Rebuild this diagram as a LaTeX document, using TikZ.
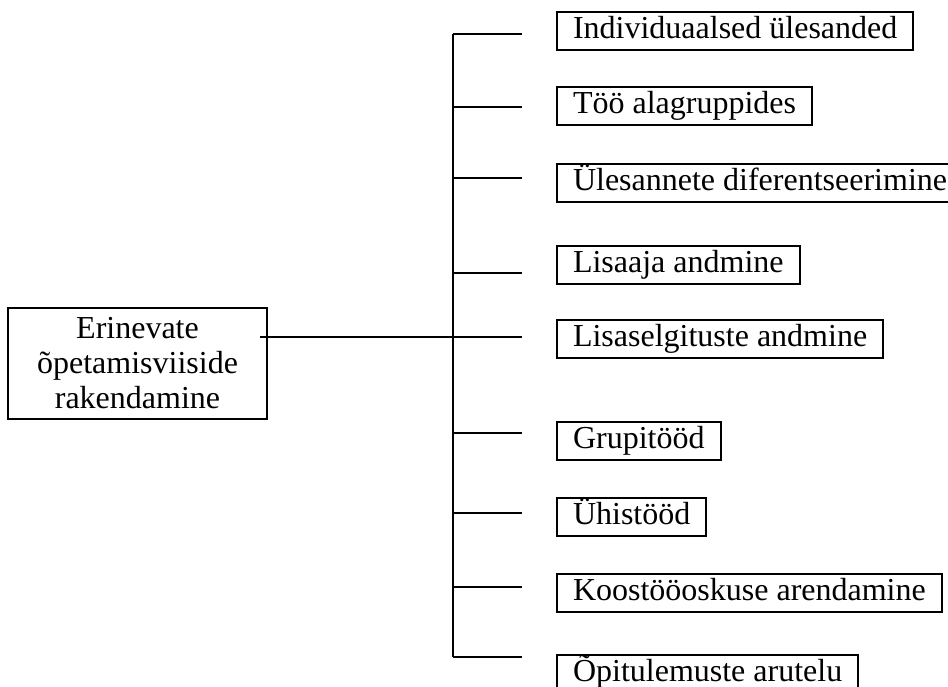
\documentclass[tikz,border=0pt]{standalone}
\usepackage{fontspec}
\setmainfont{Liberation Serif}
\tikzstyle{box} = [rectangle, draw, line width=1pt, anchor=west, inner xsep=8pt, inner ysep=2.25pt, text height=11pt, text depth=3.5pt, font=\fontsize{16}{17}\selectfont]
\tikzstyle{main} = [rectangle, draw, line width=1pt, align=center, minimum width=129.5pt, minimum height=55.5pt, font=\fontsize{16}{17.5}\selectfont]
\tikzstyle{line} = [draw, line width=1pt]

\begin{document}
\begin{tikzpicture}[x=0.5pt, y=-0.5pt]
  \useasboundingbox (0,0) rectangle (948,686);
  \node [main] (viisid) at (137.5,363.5) {Erinevate\\õpetamisviiside\\rakendamine};
  % boxes on the right: box y / tick y / name / text
  \foreach \by/\ty/\nm/\txt in {30.5/34/ind/Individuaalsed ülesanded,
      105.5/107/too/Töö alagruppides,
      182.5/178/yles/Ülesannete diferentseerimine,
      265/273/lisaaja/Lisaaja andmine,
      339/337/lisasel/Lisaselgituste andmine,
      441/433/grupi/Grupitööd,
      516.5/513/yhis/Ühistööd,
      592.5/587/koos/Koostööoskuse arendamine,
      674/657/opi/Õpitulemuste arutelu} {
    \node [box] (\nm) at (556,\by) {\txt};
    \coordinate (s-\nm) at (453,\ty);
    \coordinate (e-\nm) at (522,\ty);
    \path [line] (s-\nm) -- (e-\nm);
  }
  \path [line] (s-ind) -- (s-opi);
  \path [line] ([xshift=-4pt]viisid.east |- s-lisasel) -- (s-lisasel);
\end{tikzpicture}
\end{document}
